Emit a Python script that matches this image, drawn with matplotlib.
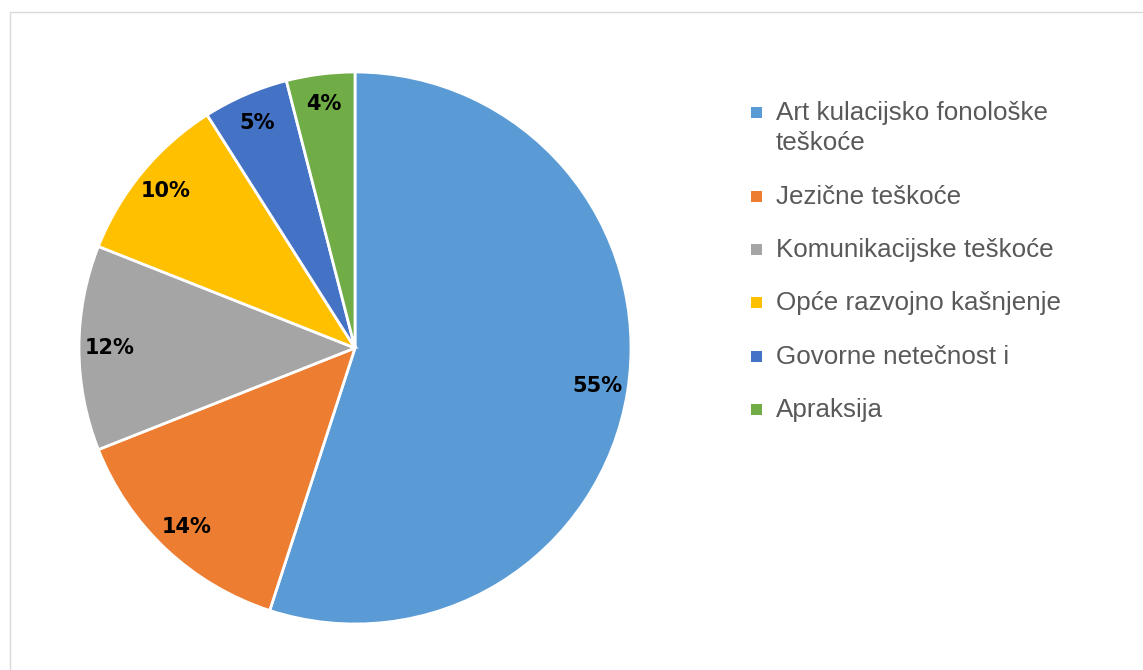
import matplotlib.pyplot as plt
from matplotlib.patches import Rectangle

categories = ['Art kulacijsko fonološke\nteškoće', 'Jezične teškoće', 'Komunikacijske teškoće',
              'Opće razvojno kašnjenje', 'Govorne netečnost i', 'Apraksija']
values = [55, 14, 12, 10, 5, 4]
colors = ['#5B9BD5', '#ED7D31', '#A5A5A5', '#FFC000', '#4472C4', '#70AD47']


def main():
    fig = plt.figure(figsize=(11.43, 6.70), dpi=100)

    # chart area frame (only top/left visible in the crop)
    fig.patches.append(Rectangle((10 / 1143, -0.1), 1.2, (670 - 12) / 670 + 0.1,
                                 transform=fig.transFigure, fill=False,
                                 edgecolor='#D9D9D9', linewidth=1))

    ax = fig.add_axes([79 / 1143, 46 / 670, 552 / 1143, 552 / 670])
    ax.pie(values, colors=colors, startangle=90, counterclock=False,
           autopct='%d%%', pctdistance=0.89,
           wedgeprops=dict(edgecolor='white', linewidth=2),
           textprops=dict(fontsize=15, fontweight='bold', color='black'))
    ax.set_xlim(-1, 1)
    ax.set_ylim(-1, 1)
    ax.set_aspect('equal')

    # legend drawn by hand
    y0 = 112
    for i, (lab, c) in enumerate(zip(categories, colors)):
        y = y0 if i == 0 else 196 + (i - 1) * 53.2
        fig.patches.append(Rectangle((751 / 1143, 1 - (y + 6) / 670), 11 / 1143, 11 / 670,
                                     transform=fig.transFigure, facecolor=c, edgecolor='none'))
        fig.text(776 / 1143, 1 - (y - 11) / 670, lab, fontsize=18.7, color='#595959',
                 va='top', ha='left', family='Liberation Sans', linespacing=1.32)

    plt.savefig('out.png', dpi=100)


if __name__ == "__main__":
    main()
